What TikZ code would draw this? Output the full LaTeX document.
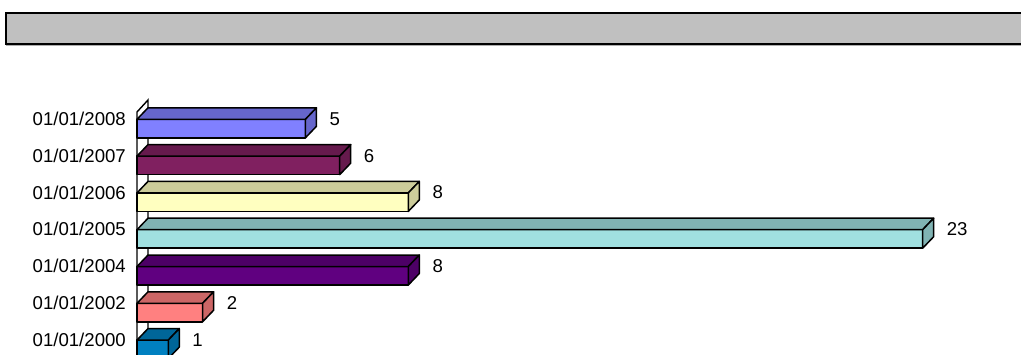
\documentclass[tikz,border=0pt]{standalone}
\usepackage{fontspec}
\setmainfont{Liberation Sans}
\definecolor{hdrgray}{HTML}{C0C0C0}
\definecolor{f2008}{HTML}{8080FF}\definecolor{t2008}{HTML}{6666CC}
\definecolor{f2007}{HTML}{802060}\definecolor{t2007}{HTML}{661A4D}
\definecolor{f2006}{HTML}{FFFFC0}\definecolor{t2006}{HTML}{CCCC9A}
\definecolor{f2005}{HTML}{A0E0E0}\definecolor{t2005}{HTML}{80B3B3}
\definecolor{f2004}{HTML}{600080}\definecolor{t2004}{HTML}{4D0066}
\definecolor{f2002}{HTML}{FF8080}\definecolor{t2002}{HTML}{CC6666}
\definecolor{f2000}{HTML}{0080C0}\definecolor{t2000}{HTML}{006699}
\begin{document}
\begin{tikzpicture}[x=1pt,y=-1pt,
        lbl/.style = {font=\fontsize{18.6}{21}\selectfont, inner sep=0pt},
        face/.style = {draw=black, line width=1.5pt, line join=round}]
        \useasboundingbox (0,0) rectangle (1021,354);
        \clip (0,0) rectangle (1021,354);
        % header band
        \draw[hdrgray!70!gray, line width=1pt] (6,45.5) -- (1021,45.5);
        \draw[line width=1.6pt, fill=hdrgray] (6,13) rectangle (1045,44);
        % axis wall
        \draw[line width=1.4pt] (137,360) -- (137,112) -- (148,100) -- (148,360);
        % bars: value/row/year
        \foreach \v/\i/\d in {5/0/2008, 6/1/2007, 8/2/2006, 23/3/2005, 8/4/2004, 2/5/2002, 1/6/2000} {
            \pgfmathsetmacro\xr{134+34.29*\v}
            \pgfmathsetmacro\yt{119.3+36.8*\i}
            \filldraw[face, fill=f\d] (137,\yt) rectangle (\xr,\yt+18.5);
            \filldraw[face, fill=t\d] (137,\yt) -- (148,\yt-11.5) -- (\xr+11,\yt-11.5) -- (\xr,\yt) -- cycle;
            \filldraw[face, fill=t\d] (\xr,\yt) -- (\xr+11,\yt-11.5) -- (\xr+11,\yt+7) -- (\xr,\yt+18.5) -- cycle;
            \node[lbl, anchor=east] (d\d) at (126,\yt-0.5) {01/01/\d};
            \node[lbl, anchor=west] (v\d) at (\xr+24,\yt-0.5) {\v};
        }
        \end{tikzpicture}
\end{document}
